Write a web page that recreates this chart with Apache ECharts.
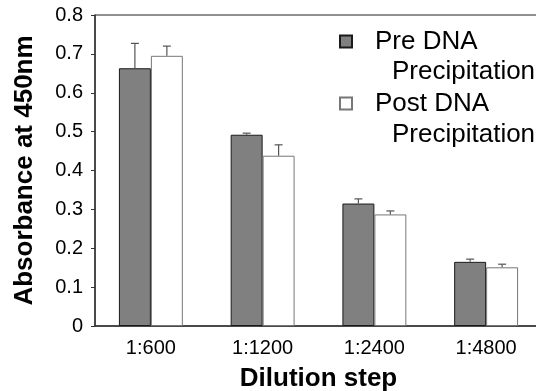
<!DOCTYPE html>
<html>
<head>
<meta charset="utf-8">
<script src="https://cdn.jsdelivr.net/npm/echarts@6/dist/echarts.min.js"></script>
<style>html,body{margin:0;padding:0;background:#fff;}#c{width:536px;height:391px;}</style>
</head>
<body>
<div id="c"></div>
<script>
const categories = ['1:600', '1:1200', '1:2400', '1:4800'];
const preValues = [0.663, 0.492, 0.315, 0.165];
const preErrors = [0.064, 0.004, 0.012, 0.007];
const postValues = [0.695, 0.438, 0.287, 0.151];
const postErrors = [0.025, 0.028, 0.009, 0.008];
const yTicks = [0, 0.1, 0.2, 0.3, 0.4, 0.5, 0.6, 0.7, 0.8];
const seriesNames = ['Pre DNA', 'Post DNA'];
const legendSecondLine = ['Precipitation', 'Precipitation'];

const FONT = 'Liberation Sans, Arial, Helvetica, sans-serif';
const BAR_FRAC = 0.286;

function errorSeries(values, errors, sign, color) {
  return {
    type: 'custom',
    z: 5,
    silent: true,
    data: values.map((v, i) => [i, v, errors[i]]),
    encode: { x: 0, y: 1 },
    renderItem: function (params, api) {
      const i = api.value(0), v = api.value(1), e = api.value(2);
      const base = api.coord([i, v]);
      const top = api.coord([i, v + e]);
      const bw = api.size([1, 0])[0] * BAR_FRAC;
      const x = base[0] + sign * bw / 2;
      const st = { stroke: color, lineWidth: 1.2 };
      return {
        type: 'group',
        children: [
          { type: 'line', shape: { x1: x, y1: base[1], x2: x, y2: top[1] }, style: st },
          { type: 'line', shape: { x1: x - 4, y1: top[1], x2: x + 4, y2: top[1] }, style: st }
        ]
      };
    }
  };
}

const chart = echarts.init(document.getElementById('c'), null, { renderer: 'canvas' });
chart.setOption({
  animation: false,
  textStyle: { fontFamily: FONT },
  grid: {
    left: 95, top: 15, right: -6, bottom: 65,
    outerBoundsMode: 'none', containLabel: false,
    show: true, borderColor: '#222', borderWidth: 1, backgroundColor: 'transparent'
  },
  legend: {
    data: seriesNames,
    orient: 'vertical',
    left: 334,
    top: 21,
    itemWidth: 12,
    itemHeight: 12,
    itemGap: 31,
    icon: 'rect',
    selectedMode: false,
    formatter: function (name) {
      return '{s|}{a|' + name + '}';
    },
    textStyle: {
      fontFamily: FONT,
      color: '#000',
      fontSize: 26,
      lineHeight: 31,
      rich: {
        s: { width: 18, fontSize: 26, lineHeight: 31 },
        a: { fontSize: 26, lineHeight: 31, fontFamily: FONT, color: '#000' }
      }
    }
  },
  graphic: legendSecondLine.map((t, k) => ({
    type: 'text',
    left: 392,
    top: 56 + k * 63,
    silent: true,
    style: { text: t, fontSize: 26, fontFamily: FONT, fill: '#000', lineHeight: 31 }
  })),
  xAxis: {
    type: 'category',
    data: categories,
    name: 'Dilution step',
    nameLocation: 'middle',
    nameGap: 40,
    nameTextStyle: { fontSize: 26, fontWeight: 'bold', color: '#000', fontFamily: FONT },
    axisLine: { lineStyle: { color: '#333', width: 1.5 } },
    axisTick: { length: 5, lineStyle: { color: '#333' } },
    axisLabel: { fontSize: 20, color: '#000', margin: 12, fontFamily: FONT }
  },
  yAxis: {
    type: 'value',
    min: yTicks[0],
    max: yTicks[yTicks.length - 1],
    interval: 0.1,
    name: 'Absorbance at 450nm',
    nameLocation: 'middle',
    nameGap: 57,
    nameTextStyle: { fontSize: 26, fontWeight: 'bold', color: '#000', fontFamily: FONT },
    splitLine: { show: false },
    axisLine: { show: true, lineStyle: { color: '#333', width: 1.5 } },
    axisTick: { show: true, length: 4, lineStyle: { color: '#333' } },
    axisLabel: {
      fontSize: 20, color: '#000', margin: 12, fontFamily: FONT,
      formatter: function (v) { return v === 0 ? '0' : v.toFixed(1); }
    }
  },
  series: [
    {
      name: seriesNames[0],
      type: 'bar',
      data: preValues,
      barGap: '0%',
      barCategoryGap: '42.8%',
      itemStyle: { color: '#808080', borderColor: '#1a1a1a', borderWidth: 1 }
    },
    {
      name: seriesNames[1],
      type: 'bar',
      data: postValues,
      barGap: '0%',
      barCategoryGap: '42.8%',
      itemStyle: { color: '#ffffff', borderColor: '#777777', borderWidth: 1 }
    },
    errorSeries(preValues, preErrors, -1, '#555'),
    errorSeries(postValues, postErrors, 1, '#555')
  ]
});
</script>
</body>
</html>
